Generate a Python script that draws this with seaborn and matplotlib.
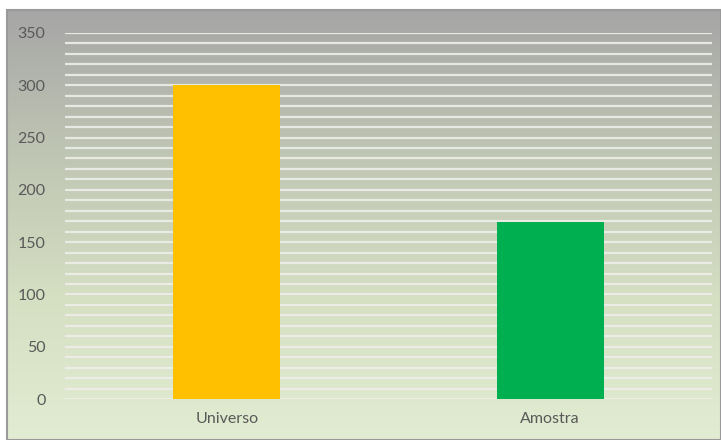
import numpy as np
import pandas as pd
import matplotlib.pyplot as plt
import matplotlib.colors as mcolors
from matplotlib.ticker import MultipleLocator
import seaborn as sns

categories = ['Universo', 'Amostra']
values = [300, 169]
bar_colors = ['#FFC000', '#00B050']

df = pd.DataFrame({'grupo': categories, 'n': values})

sns.set_theme(style="white")
plt.rcParams['font.family'] = ['Lato', 'DejaVu Sans']

fig = plt.figure(figsize=(7.21, 4.4), dpi=100)

# gradient background of the chart area (gray at top -> pale green at bottom)
bg = fig.add_axes([7 / 721, 0, 714 / 721, 430 / 440], zorder=0)
cmap = mcolors.LinearSegmentedColormap.from_list(
    'bg', ['#A6A6A6', '#BFC5B3', '#D5DFC2', '#E2ECD2'])
grad = np.linspace(0, 1, 256).reshape(-1, 1)
bg.imshow(grad, aspect='auto', cmap=cmap, extent=[0, 1, 0, 1], origin='upper')
bg.set_axis_off()
bg.add_patch(plt.Rectangle((0, 0), 1, 1, transform=bg.transAxes, fill=False,
                           edgecolor='#9A9A9A', lw=1.5, clip_on=False))

ax = fig.add_axes([65 / 721, (440 - 399) / 440, 647 / 721, 366 / 440], zorder=1)
ax.patch.set_alpha(0)
sns.barplot(data=df, x='grupo', y='n', hue='grupo', palette=bar_colors,
            width=0.33, legend=False, ax=ax, zorder=3, saturation=1,
            linewidth=0, edgecolor='none')

ax.set_ylim(0, 350)
ax.set_xlim(-0.5, 1.5)
ax.yaxis.set_major_locator(MultipleLocator(50))
ax.yaxis.set_minor_locator(MultipleLocator(10))
ax.grid(axis='y', which='both', color='#EEEEEA', lw=1.6, alpha=0.9, zorder=0)
ax.set_axisbelow(True)
sns.despine(ax=ax, left=True, bottom=True)
ax.tick_params(axis='both', which='both', length=0, labelsize=11.5,
               labelcolor='#595959')
ax.tick_params(axis='y', pad=14)
ax.tick_params(axis='x', pad=9)
ax.set_xlabel('')
ax.set_ylabel('')

fig.savefig('out.png', dpi=100, facecolor='white')
